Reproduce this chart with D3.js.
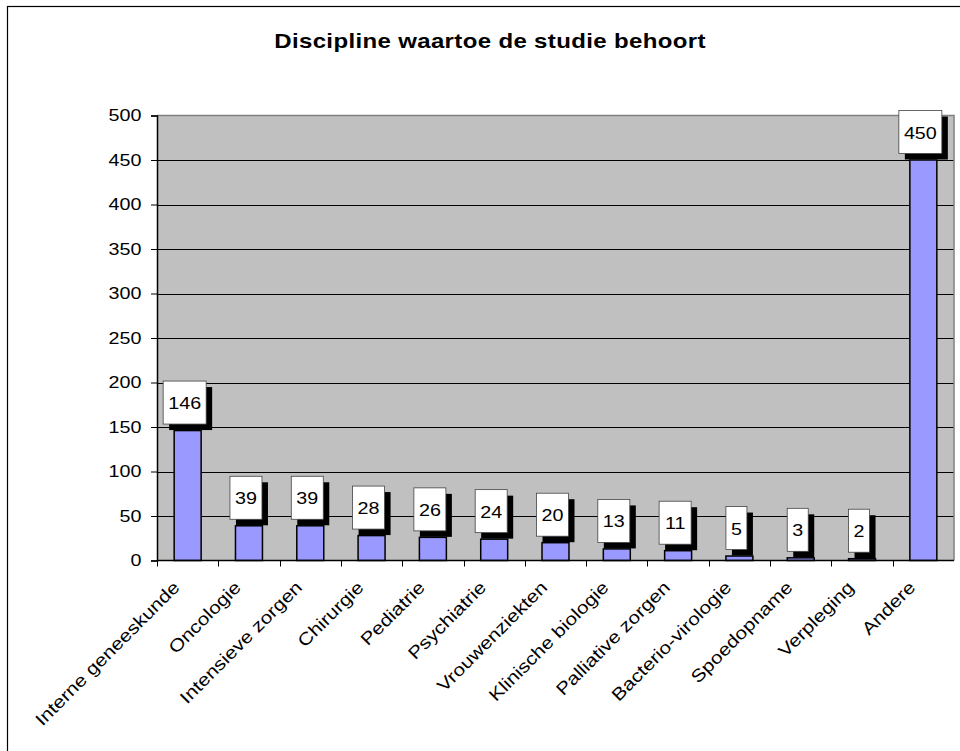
<!DOCTYPE html>
<html>
<head>
<meta charset="utf-8">
<script src="https://cdn.jsdelivr.net/npm/d3@7"></script>
<style>
  html, body { margin: 0; padding: 0; background: #fff; }
  svg { display: block; font-family: Arial, "Liberation Sans", sans-serif; }
</style>
</head>
<body>
<svg id="chart" width="960" height="751"></svg>
<script>
// Number of studies per discipline
const categories = [
  "Interne geneeskunde", "Oncologie", "Intensieve zorgen", "Chirurgie",
  "Pediatrie", "Psychiatrie", "Vrouwenziekten", "Klinische biologie",
  "Palliative zorgen", "Bacterio-virologie", "Spoedopname", "Verpleging", "Andere"
];
const values = [146, 39, 39, 28, 26, 24, 20, 13, 11, 5, 3, 2, 450];
const yTicks = [0, 50, 100, 150, 200, 250, 300, 350, 400, 450, 500];
const title = "Discipline waartoe de studie behoort";

const svg = d3.select("#chart");
const W = 960, H = 751;
const FONT = "Arial, 'Liberation Sans', sans-serif";
const WIDEN = 1.16;   // wide glyph rendering of the labels

// chart frame (runs off the right and bottom edges)
svg.append("rect")
  .attr("x", 7.5).attr("y", 6.5)
  .attr("width", W + 20).attr("height", H + 20)
  .attr("fill", "#fff").attr("stroke", "#000").attr("stroke-width", 1.2);

const plot = { left: 157, right: 954, top: 115.5, bottom: 560.5 };

const x = d3.scaleBand()
  .domain(categories)
  .range([plot.left, plot.right])
  .paddingInner(0.56).paddingOuter(0.28);

const y = d3.scaleLinear()
  .domain([0, 500])
  .range([plot.bottom, plot.top]);

// title
svg.append("text")
  .attr("transform", "translate(490,48) scale(1.2,1)")
  .attr("text-anchor", "middle")
  .attr("font-size", 20).attr("font-weight", "bold")
  .attr("letter-spacing", 0.3)
  .text(title);

// plot area background
svg.append("rect")
  .attr("x", plot.left).attr("y", plot.top)
  .attr("width", plot.right - plot.left).attr("height", plot.bottom - plot.top)
  .attr("fill", "#C0C0C0");

// gridlines
svg.append("g")
  .selectAll("line")
  .data(yTicks.filter(t => t > 0 && t < 500))
  .join("line")
  .attr("x1", plot.left).attr("x2", plot.right)
  .attr("y1", d => Math.round(y(d)) + 0.5).attr("y2", d => Math.round(y(d)) + 0.5)
  .attr("stroke", "#000").attr("stroke-width", 1);

// plot area border (top and right)
svg.append("path")
  .attr("d", `M${plot.left},${plot.top}H${plot.right}V${plot.bottom}`)
  .attr("fill", "none").attr("stroke", "#808080").attr("stroke-width", 1.5);

// bars
svg.append("g")
  .selectAll("rect")
  .data(values)
  .join("rect")
  .attr("x", (d, i) => x(categories[i]))
  .attr("y", d => y(d))
  .attr("width", x.bandwidth())
  .attr("height", d => y(0) - y(d))
  .attr("fill", "#9999FF")
  .attr("stroke", "#000").attr("stroke-width", 1.5);

// y axis
const yAxis = d3.axisLeft(y).tickValues(yTicks).tickSize(6).tickPadding(9)
  .tickFormat(d3.format("d"));
const gy = svg.append("g").attr("transform", `translate(${plot.left},0)`).call(yAxis);
gy.select(".domain").attr("stroke", "#000").attr("stroke-width", 1.5);
gy.selectAll(".tick line").attr("stroke", "#000");
gy.selectAll(".tick text")
  .attr("x", 0)
  .attr("transform", `translate(-15.5,0) scale(${WIDEN},1)`)
  .attr("font-size", 17).attr("fill", "#000")
  .attr("font-family", FONT);

// x axis with ticks at category boundaries
const step = x.step();
const bounds = d3.range(categories.length + 1).map(i => plot.left + i * step);
svg.append("line")
  .attr("x1", plot.left).attr("x2", plot.right)
  .attr("y1", plot.bottom).attr("y2", plot.bottom)
  .attr("stroke", "#000").attr("stroke-width", 1.5);
svg.append("g")
  .selectAll("line")
  .data(bounds.slice(0, categories.length))
  .join("line")
  .attr("x1", d => Math.round(d) + 0.5).attr("x2", d => Math.round(d) + 0.5)
  .attr("y1", plot.bottom).attr("y2", plot.bottom + 6)
  .attr("stroke", "#000");

// rotated category labels
svg.append("g")
  .selectAll("text")
  .data(categories)
  .join("text")
  .attr("transform", d =>
    `translate(${x(d) + x.bandwidth() / 2 - 7},${plot.bottom + 28}) rotate(-45) scale(1.19,1)`)
  .attr("text-anchor", "end")
  .attr("font-size", 17.5)
  .text(d => d);

// value labels: white box with black drop shadow
const lab = svg.append("g")
  .selectAll("g")
  .data(values)
  .join("g")
  .attr("transform", (d, i) => {
    const cx = x(categories[i]) + x.bandwidth() / 2;
    return `translate(${cx},${y(d)})`;
  });
const boxW = d => String(d).length * 11 + 10;
const boxH = 43, sh = 6;
lab.append("rect")
  .attr("x", d => -(boxW(d) + sh) / 2 + sh)
  .attr("y", -boxH - 0.5)
  .attr("width", d => boxW(d)).attr("height", boxH)
  .attr("fill", "#000");
lab.append("rect")
  .attr("x", d => -(boxW(d) + sh) / 2)
  .attr("y", -boxH - sh - 0.5)
  .attr("width", d => boxW(d)).attr("height", boxH)
  .attr("fill", "#fff").attr("stroke", "#444").attr("stroke-width", 0.8);
lab.append("text")
  .attr("transform", d =>
    `translate(${-(boxW(d) + sh) / 2 + boxW(d) / 2},${-boxH / 2 - sh + 6}) scale(${WIDEN},1)`)
  .attr("text-anchor", "middle")
  .attr("font-size", 17)
  .text(d => d);
</script>
</body>
</html>
